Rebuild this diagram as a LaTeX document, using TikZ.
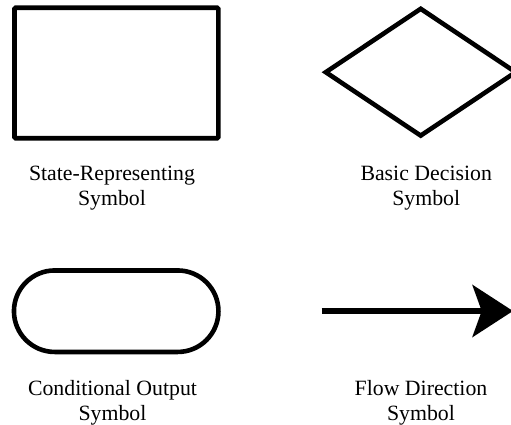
\documentclass[tikz,border=0pt]{standalone}
\usepackage{fontspec}
\setmainfont{Liberation Serif}
\usetikzlibrary{shapes.geometric,shapes.misc,arrows.meta}
\begin{document}
\begin{tikzpicture}[x=1pt,y=-1pt,
  symbolshape/.style={draw=black,line width=4.6pt,inner sep=0pt,outer sep=0pt},
  caption/.style={font=\fontsize{21.8}{25}\selectfont,align=center,inner sep=0pt,anchor=base}]
\useasboundingbox (0,0) rectangle (511,425);
\node[symbolshape,rectangle,rounded corners=1.2pt,minimum width=203.8pt,minimum height=130.5pt] (state) at (116.4,73.05) {};
\node[symbolshape,diamond,minimum width=189.8pt,minimum height=126.8pt] (decision) at (420.7,72.2) {};
\node[symbolshape,rounded rectangle,minimum width=204.5pt,minimum height=81.5pt] (output) at (116.2,311.2) {};
\coordinate (flowstart) at (321.7,311);
\coordinate (flowend) at (513,311);
\draw[line width=6pt,-{Stealth[length=40.5pt,width=52pt,inset=9.2pt]}] (flowstart) -- (flowend);
\node[caption] (statelabel) at (112,205) {State-Representing\\Symbol};
\node[caption] (decisionlabel) at (426.2,205) {Basic Decision\\Symbol};
\node[caption] (outputlabel) at (112.5,420) {Conditional Output\\Symbol};
\node[caption] (flowlabel) at (421,420) {Flow Direction\\Symbol};
\end{tikzpicture}
\end{document}
